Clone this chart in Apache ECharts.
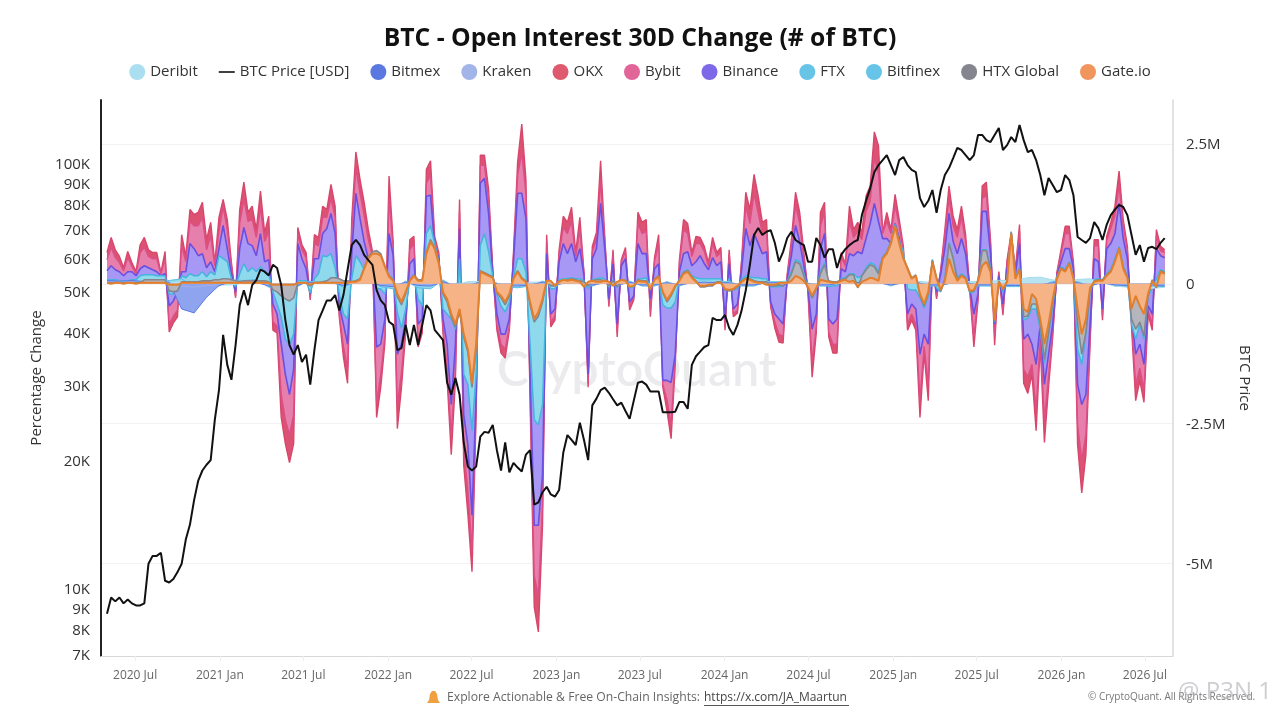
<!DOCTYPE html>
<html><head><meta charset="utf-8">
<style>html,body{margin:0;padding:0;background:#fff}#c{width:1280px;height:720px}</style>
<script src="https://cdn.jsdelivr.net/npm/echarts@6/dist/echarts.min.js"></script>
</head><body><div id="c"></div>
<script>
const startDate = '2020-05-01', stepDays = 9, sideStep = 3;
const xTickDates = ['2020-07-01','2021-01-01','2021-07-01','2022-01-01','2022-07-01','2023-01-01','2023-07-01','2024-01-01','2024-07-01','2025-01-01','2025-07-01','2026-01-01','2026-07-01'];
const priceTicks = [7000,8000,9000,10000,20000,30000,40000,50000,60000,70000,80000,90000,100000];
const oiTicks = [-5000,-2500,0,2500];
const legendOrder = ['Deribit','BTC Price [USD]','Bitmex','Kraken','OKX','Bybit','Binance','FTX','Bitfinex','HTX Global','Gate.io'];
const legendColors = ['#abdfef','#111111','#5b78e0','#a3b4e8','#de5a6e','#e2659a','#7d68e8','#68c4e6','#66c4e8','#85858f','#f0965c'];

const btcPrice = [
8700,9500,9300,9500,9200,9400,9200,9100,9100,9200,
11400,11900,11900,12100,10400,10300,10500,10900,11400,13000,
14100,16100,17900,18900,19500,20000,24900,29200,39400,33500,
30900,37300,46300,50200,46300,51600,53000,56100,55500,54400,
57600,56600,51600,42700,37300,35400,37300,34000,35400,30100,
36300,42700,45000,47500,47500,48900,45000,48900,56000,64100,
65900,64100,60800,59100,57600,50200,47500,46300,42300,41600,
36300,36700,41600,37300,41600,37300,41600,46300,45000,40500,
39400,38300,30400,28500,31200,28500,22000,19300,18900,19300,
22700,23300,23200,24200,21100,18900,22000,18700,19700,19200,
18800,20600,21100,15700,15900,16800,17300,16600,16400,17000,
20800,22900,22300,21700,24500,22300,20000,26900,27900,29200,
29600,28800,27800,26900,27300,26100,25000,27600,30400,30600,
30100,29000,29000,29000,25900,25900,25900,26000,27400,27400,
26400,33500,35100,36000,36900,37300,43200,42700,42700,43900,
40900,39400,41600,45000,50200,57600,67700,70300,67700,68900,
69500,64900,58600,61800,66600,68900,65900,64900,64100,58600,
58600,66600,64100,59900,62700,62700,56600,60800,62700,64100,
65200,65900,75400,81500,87300,95200,98900,101600,104400,98900,
93700,101600,103300,98900,96300,95200,82700,78800,81500,86400,
76300,86400,93700,97300,102700,108500,107300,104400,101600,104400,
116400,116400,113200,112000,116400,120900,107300,110200,115100,112000,
122900,113200,106100,107300,101600,93700,84000,92200,88800,85400,
86400,93700,91200,84000,67000,65900,64900,66600,72600,70300,
65900,71500,75400,77700,79700,78800,75400,67700,60800,64100,
58600,63100,63500,62700,64900,66600];

const okx = [
560,830,610,490,290,580,380,220,700,830,
610,560,560,200,580,-860,-700,-590,880,490,
1330,1240,1280,1460,790,1100,380,1190,1510,1150,
380,-250,1330,1820,1280,1390,970,1660,920,1210,
-830,-880,-2390,-2860,-3200,-2860,1010,700,560,-290,
880,830,1390,1330,1780,1390,-590,-1310,-1780,1150,
2360,1870,1460,970,580,-2390,-1850,-1060,1930,740,
-2590,-1850,-880,790,850,-1130,-880,2050,2200,850,
560,-880,-1710,-3060,-1730,1510,-3240,-4120,-5150,-2340,
2300,2300,1690,250,-830,-1240,-1330,-830,560,2180,
2860,1870,-2090,-5780,-6230,-4320,880,-770,-650,610,
1210,1100,1370,560,1190,200,-1850,670,920,2200,
850,-410,610,-950,430,650,-470,-290,1280,1100,
1150,-590,470,880,-1850,-2270,-2770,-1440,430,1150,
1080,560,850,830,670,380,830,560,650,-830,
610,-590,-520,430,1640,1330,1960,1570,1100,1150,
-410,-790,-1040,-1060,180,790,1640,1280,560,-140,
-1670,-880,1280,1460,-950,-1240,-1240,560,360,1390,
970,1100,920,1570,1750,2720,2470,920,1280,970,
1600,1150,670,-830,-650,-830,-2390,-1240,-2090,430,
-270,250,970,1750,1210,970,1390,880,-110,-1130,
-290,1750,1820,790,-1100,220,-560,430,920,250,
1060,-1780,-1960,-1620,-2630,-1080,-2840,-1850,-950,200,
610,1030,1030,380,-2880,-3740,-3060,-1080,790,790,
-650,850,1100,1390,2020,1150,670,-770,-2090,-1730,
-2120,-540,-830,970,670,610];

const bybit = [
430,650,470,380,230,470,310,180,560,650,
490,450,450,180,450,-720,-580,-470,680,400,
1120,1040,1040,1190,610,860,320,940,1370,970,
320,-220,1080,1510,1120,1150,830,1370,760,940,
-680,-760,-1980,-2430,-2700,-2340,900,610,470,-250,
720,680,1190,1190,1530,1190,-540,-1120,-1510,940,
2070,1620,1220,790,500,-2120,-1620,-940,1530,650,
-2160,-1580,-770,610,720,-990,-790,1800,1940,760,
500,-790,-1530,-2700,-1530,1300,-2970,-3690,-4770,-2160,
2120,2120,1510,230,-720,-1080,-1170,-760,490,1940,
2340,1620,-1890,-5220,-5580,-3960,760,-680,-580,540,
1010,900,1120,490,970,180,-1750,580,790,1840,
760,-360,520,-860,400,580,-410,-250,1080,900,
940,-500,400,720,-1800,-2070,-2520,-1300,360,970,
900,490,720,720,580,320,720,490,560,-760,
540,-540,-470,380,1400,1080,1620,1260,900,940,
-380,-680,-900,-940,140,680,1400,1080,470,-130,
-1400,-760,1040,1260,-860,-1080,-1080,490,320,1120,
830,940,790,1300,1480,2250,1980,900,1120,900,
1400,1040,580,-720,-540,-720,-2070,-1120,-1800,360,
-230,230,860,1530,1040,830,1190,760,-90,-940,
-250,1530,1580,720,-940,200,-490,380,830,230,
940,-1530,-1660,-1440,-2250,-990,-2430,-1660,-860,180,
540,900,900,340,-2520,-3150,-2700,-990,680,680,
-580,770,990,1220,1760,1040,590,-680,-1800,-1510,
-1890,-490,-720,860,590,560];

const binance = [
234,324,252,216,144,216,216,144,270,324,
288,252,216,144,180,-396,-306,-144,216,216,
720,630,504,540,288,396,216,630,1044,630,
180,-144,630,1008,720,684,504,900,396,432,
-360,-540,-1080,-1620,-1980,-1530,720,450,270,-180,
450,450,900,990,1260,900,-396,-720,-1080,540,
1620,1170,756,450,360,-1134,-1080,-630,900,504,
-1260,-1080,-630,360,450,-720,-630,1566,1584,684,
450,-630,-1080,-2160,-1080,990,-2340,-2880,-4140,-1980,
1800,1890,1260,180,-540,-900,-900,-630,396,1620,
1620,1170,-1620,-4320,-4320,-3420,540,-540,-450,396,
720,540,720,396,630,144,-1620,450,630,1440,
630,-270,360,-720,324,450,-324,-216,720,540,
540,-270,270,360,-1728,-1728,-1764,-1260,216,540,
576,324,396,504,360,252,468,324,396,-630,
360,-450,-360,252,990,684,900,720,540,576,
-324,-540,-630,-720,90,504,1044,756,324,-90,
-810,-540,630,900,-630,-720,-630,270,216,540,
504,576,540,810,1080,1440,1116,810,810,720,
1080,810,360,-540,-360,-450,-1260,-900,-1080,216,
-144,180,630,1260,756,540,810,540,-72,-540,
-180,1296,1296,540,-720,144,-360,270,630,180,
720,-990,-900,-1080,-1440,-720,-1800,-1260,-720,144,
396,630,630,270,-1800,-2160,-1980,-720,450,396,
-450,630,720,900,1440,810,450,-540,-1260,-1080,
-1440,-396,-540,630,504,468];

const ftx = [
72,72,72,54,54,54,72,72,144,162,
162,162,144,144,144,-180,-180,-108,144,108,
180,144,144,216,126,216,162,504,450,396,
90,-54,180,360,216,288,216,306,216,180,
-144,-360,-594,-990,-1080,-900,54,54,54,-162,
90,180,504,486,540,288,-180,-540,-630,90,
504,396,252,180,216,-90,-90,-180,144,90,
-504,-792,-450,54,144,-270,-396,900,1044,720,
396,-450,-540,-630,-810,450,-1620,-1800,-2628,-1620,
684,900,576,144,-180,-396,-504,-324,126,450,
450,216,-1080,-2430,-2520,-2160,54,-90,-90,72,
90,90,108,90,90,54,-90,72,90,108,
90,-54,72,-72,72,72,-72,-54,90,90,
108,-54,72,90,-378,-432,-432,-324,90,216,
252,144,108,90,90,90,90,90,90,-108,
90,-108,-90,90,144,126,108,108,90,90,
-54,-54,-54,-36,54,216,432,396,180,-72,
-252,-90,216,378,-54,-36,-36,90,108,180,
180,108,144,288,378,342,216,486,576,756,
1062,756,576,-90,-108,-108,-252,-432,-216,432,
-72,-144,90,738,468,108,180,126,-162,-144,
72,612,612,288,-684,72,-144,90,936,126,
288,-648,-612,-450,-450,-810,-1404,-900,-396,126,
306,252,396,108,-1170,-1440,-900,-144,72,90,
72,180,252,450,666,306,144,-720,-990,-720,
-990,-216,-72,90,252,216];

const htx = [
18,18,18,18,18,18,18,18,18,72,
72,72,72,72,72,-126,-144,-126,36,36,
36,36,36,54,54,54,72,72,90,90,
72,54,36,54,54,54,54,54,54,36,
-108,-144,-216,-270,-306,-252,18,18,18,-36,
18,18,36,54,108,108,90,54,54,36,
54,90,288,486,576,594,540,324,144,72,
-234,-378,-180,72,162,72,72,576,792,648,
378,-180,-324,-594,-774,-504,-954,-1224,-1854,-1152,
234,198,162,126,-162,-252,-378,-216,108,234,
108,54,-378,-684,-576,-324,54,-36,-36,54,
54,72,90,72,54,36,-36,54,72,72,
54,-36,54,-54,54,54,-36,-36,72,54,
54,-108,90,144,-162,-324,-216,-54,72,198,
234,126,54,-54,-54,-36,-36,36,36,-108,
-126,-108,-54,54,108,90,54,36,36,36,
-36,-36,-18,-36,36,180,396,360,144,-72,
-252,-90,180,342,54,36,36,72,90,162,
162,-72,144,252,342,306,180,468,558,738,
1044,738,468,288,108,162,-216,-396,-162,414,
108,-126,72,720,450,72,162,108,-144,-126,
72,594,594,252,-666,54,-108,54,918,108,
270,-594,-576,-360,-360,-720,-1350,-864,-324,108,
288,234,378,108,-720,-1260,-864,-108,54,72,
72,162,234,414,648,288,126,-630,-810,-684,
-936,-198,72,-72,234,198];

const gate = [
18,0,18,18,0,18,18,0,18,18,
18,18,18,18,18,-18,-18,-18,18,18,
18,18,18,18,18,18,18,18,18,18,
18,18,18,18,18,18,18,18,18,18,
-18,-18,-18,-18,-18,-18,18,18,18,-18,
18,18,18,18,18,18,18,18,18,36,
36,72,270,450,540,540,504,306,126,54,
-180,-324,-144,54,144,54,54,540,756,630,
360,-144,-270,-540,-720,-450,-900,-1170,-1780,-1080,
216,180,144,108,-144,-216,-324,-180,90,216,
90,36,-324,-630,-504,-270,54,54,-36,36,
72,54,72,54,36,-54,36,54,36,36,
54,36,-36,36,72,54,-54,-36,54,36,
36,-90,72,126,-144,-288,-180,-36,54,180,
216,108,36,-36,-36,-18,-18,18,18,-90,
-108,-90,-36,36,90,72,36,18,18,-18,
-18,-18,18,18,18,54,144,108,54,-54,
-216,-72,72,54,36,18,18,54,72,36,
54,-54,36,72,108,90,54,450,540,720,
1026,720,450,270,90,144,-180,-360,-144,396,
90,-108,54,450,216,54,144,90,-126,-108,
54,324,396,216,-648,36,-90,36,900,90,
252,-450,-504,-180,-270,-630,-1080,-720,-270,90,
270,216,360,90,-450,-900,-630,-72,36,54,
54,144,216,396,630,270,108,-450,-216,-396,
-540,-180,54,-54,216,180];

const deribit = [
20,30,20,30,20,30,40,-20,-30,-20,
-20,20,30,-30,-30,-40,30,20,30,-20,
20,30,-20,-30,30,-30,-20,30,-30,40,
40,30,-30,-40,30,30,-20,30,30,-20,
30,-20,30,-20,-20,30,-20,30,40,30,
30,-20,-20,30,30,40,30,-20,-20,30,
30,40,40,-30,60,50,30,-30,40,40,
40,50,60,70,110,120,70,40,80,90,
20,-40,-60,-90,-80,-60];

const bitmex = [
60,50,60,40,40,30,-450,-520,-240,-30,
40,30,30,-40,-60,-60,30,20,30,-30,
30,40,-30,-50,30,-30,-40,40,-40,-30,
30,20,-30,-40,-20,30,-20,30,20,-20,
20,-20,30,-20,-20,20,-20,20,30,20,
20,-20,-20,20,20,30,20,-20,-20,20,
20,30,20,-20,20,20,-20,-20,20,20,
-20,-20,-30,-30,-30,-20,20,30,20,-30,
20,-20,-30,-30,-20,-40];

const kraken = [
30,20,30,30,20,20,-40,-60,-30,-20,
20,20,30,-20,-30,-30,20,20,20,-20,
20,30,-20,-30,20,-20,-20,20,-20,-20,
20,20,-20,-30,-20,20,-20,20,20,-20,
20,-20,20,-20,-20,20,-20,20,20,20,
20,-20,-20,20,20,20,20,-20,-20,20,
20,20,20,-20,20,20,-20,-20,20,20,
-20,-20,-20,-20,-20,-20,20,20,20,-20,
20,-20,-20,-20,-20,-20];

const bitfinex = [
50,60,50,40,40,60,90,-60,-70,-40,
70,60,80,-60,-80,-90,40,40,40,-60,
60,70,-50,-90,50,-70,-90,70,-60,-80,
60,50,-60,-70,-40,50,-40,50,40,-40,
40,-40,50,-40,-40,40,-40,40,50,40,
40,-40,-40,40,40,50,40,-40,-40,40,
40,50,40,-40,40,40,-40,-40,40,40,
-40,-40,-50,-50,-50,-40,40,50,40,-50,
40,-40,-50,-50,-40,-50];

const DAY = 86400000, t0 = Date.parse(startDate + 'T00:00:00Z');
const pairs = (arr, step) => arr.map((v, i) => [t0 + i * step * stepDays * DAY, v]);
const area = (name, values, step, line, fill, width, z) => ({
  name, type: 'line', yAxisIndex: 1, data: pairs(values, step), showSymbol: false, symbol: 'none', smooth: false,
  lineStyle: { color: line, width }, itemStyle: { color: line }, areaStyle: { color: fill, opacity: 1, origin: 0 },
  z, silent: true, clip: true
});
const xTickMs = xTickDates.map(d => Date.parse(d + 'T00:00:00Z'));

const chart = echarts.init(document.getElementById('c'), null, { renderer: 'canvas' });
const FONT = '"Open Sans","Noto Sans",sans-serif';
chart.setOption({
  animation: false,
  backgroundColor: '#fff',
  textStyle: { fontFamily: FONT },
  title: { text: 'BTC - Open Interest 30D Change (# of BTC)', left: 'center', top: 21,
    textStyle: { fontFamily: FONT, fontSize: 24.7, fontWeight: 'bold', color: '#111' } },
  legend: {
    top: 59, left: 'center', itemWidth: 16, itemHeight: 16, itemGap: 21, icon: 'circle',
    textStyle: { fontFamily: FONT, fontSize: 15, color: '#333' },
    data: legendOrder.map((n, i) => n === 'BTC Price [USD]'
      ? { name: n, icon: 'path://M0,9H20V11H0Z', itemStyle: { color: legendColors[i] } }
      : { name: n, itemStyle: { color: legendColors[i] } })
  },
  grid: { left: 101, right: 107, top: 100, bottom: 64 },
  xAxis: {
    type: 'value', scale: true,
    min: Date.parse('2020-04-18T00:00:00Z'), max: Date.parse('2026-08-31T00:00:00Z'),
    axisLine: { show: true, lineStyle: { color: '#d8d8d8', width: 1 }, onZero: false },
    axisTick: { show: true, length: 5, lineStyle: { color: '#eeeeee' }, customValues: xTickMs },
    axisLabel: {
      color: '#666', fontSize: 12, margin: 14, hideOverlap: false, customValues: xTickMs,
      formatter: v => { const d = new Date(v); return d.getUTCFullYear() + ' ' + (d.getUTCMonth() < 3 ? 'Jan' : 'Jul'); }
    },
    splitLine: { show: false }
  },
  yAxis: [{
    type: 'log', logBase: 10, position: 'left', min: 6918, max: 140700,
    name: 'Percentage Change', nameLocation: 'middle', nameGap: 55, nameRotate: 90,
    nameTextStyle: { fontSize: 15, color: '#333', fontFamily: FONT },
    axisLine: { show: true, lineStyle: { color: '#222', width: 2 } },
    axisTick: { show: false, customValues: priceTicks },
    axisLabel: { color: '#333', margin: 11, customValues: priceTicks,
      rich: { a: { fontSize: 15, color: '#333', fontFamily: FONT, padding: [4, 0, 0, 0] } },
      formatter: v => '{a|' + Math.round(v / 1000) + 'K}' },
    splitLine: { show: false }, minorSplitLine: { show: false }
  }, {
    type: 'value', position: 'right', min: -6660, max: 3290,
    name: 'BTC Price', nameLocation: 'middle', nameGap: 59, nameRotate: -90,
    nameTextStyle: { fontSize: 15, color: '#333', fontFamily: FONT },
    axisLine: { show: true, lineStyle: { color: '#d8d8d8', width: 1.5 } },
    axisTick: { show: false, customValues: oiTicks },
    axisLabel: { color: '#333', margin: 13, customValues: oiTicks,
      rich: { a: { fontSize: 15, color: '#333', fontFamily: FONT, padding: [2, 0, 0, 0] } },
      formatter: v => '{a|' + (v === 0 ? '0' : (v / 1000) + 'M') + '}' },
    splitLine: { show: true, lineStyle: { color: '#f2f2f2', width: 1 } }
  }],
  series: [
    area('OKX', okx, 1, '#d8476b', '#dc5272', 1.4, 2),
    area('Bybit', bybit, 1, '#dc4f86', '#e67fac', 1.4, 3),
    area('Binance', binance, 1, '#6b4fe0', '#a698f4', 1.6, 4),
    area('FTX', ftx, 1, '#45b4de', '#8fd9ec', 1.5, 5),
    area('Bitfinex', bitfinex, sideStep, '#5cc0e6', '#8fd9ec', 1, 6),
    area('Deribit', deribit, sideStep, '#a5dcee', '#b8e4f1', 1, 6),
    area('Kraken', kraken, sideStep, '#9fb2ea', '#b4c3ef', 1, 7),
    area('Bitmex', bitmex, sideStep, '#5b7be6', '#8ea4ee', 1, 7),
    area('HTX Global', htx, 1, '#85858f', '#b5b5bd', 1.6, 8),
    area('Gate.io', gate, 1, '#e27f2d', '#f6b385', 2, 9),
    { name: 'BTC Price [USD]', type: 'line', yAxisIndex: 0, data: pairs(btcPrice, 1), showSymbol: false, symbol: 'none',
      lineStyle: { color: '#111', width: 2 }, itemStyle: { color: '#111' }, z: 10, silent: true }
  ],
  graphic: [
    { type: 'text', left: 497, top: 347, z: 1, silent: true,
      style: { text: 'CryptoQuant', font: '600 48px Lato,"Open Sans",sans-serif', fill: '#ebebee' } },
    { type: 'polygon', z: 20, silent: true,
      shape: { points: [[432,691],[435,691],[437,694],[438,700],[440,703],[427,703],[429,700],[430,694]] },
      style: { fill: '#f0a040' } },
    { type: 'text', left: 447, top: 692, silent: true,
      style: { text: 'Explore Actionable & Free On-Chain Insights:', font: '12.2px "Open Sans",sans-serif', fill: '#666' } },
    { type: 'text', left: 704, top: 692, silent: true,
      style: { text: 'https://x.com/JA_Maartun', font: '12px "Open Sans",sans-serif', fill: '#444' } },
    { type: 'rect', silent: true, shape: { x: 704, y: 705, width: 145, height: 1 }, style: { fill: '#555' } },
    { type: 'text', left: 1088, top: 692, silent: true,
      style: { text: '© CryptoQuant. All Rights Reserved.', font: '10px "Open Sans",sans-serif', fill: '#777' } },
    { type: 'text', left: 1178, top: 680, silent: true,
      style: { text: '@ P3N 1', font: '24px "Open Sans",sans-serif', fill: 'rgba(180,180,186,0.65)' } }
  ]
});
</script></body></html>
